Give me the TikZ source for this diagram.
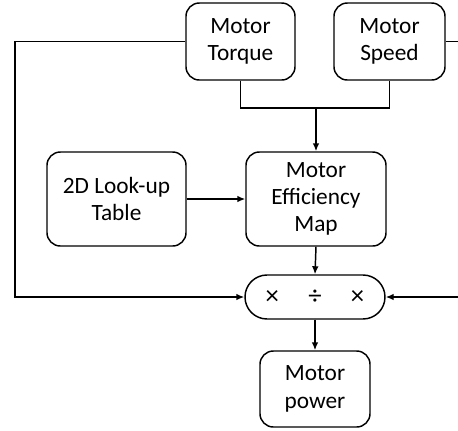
\documentclass[tikz,border=0pt]{standalone}
\usepackage{fontspec}
\setmainfont{Carlito}
\usetikzlibrary{arrows.meta,positioning}

\begin{document}
\begin{tikzpicture}[x=0.75pt,y=0.75pt,yscale=-1,
  blk/.style={draw,line width=1.1pt,rounded corners=10pt,align=center,inner sep=0pt,
    font=\fontsize{17.5}{20.5}\selectfont},
  wire/.style={line width=1.1pt},
  arr/.style={wire,-{Latex[length=6pt,width=5pt]}}]
  \useasboundingbox (0,0) rectangle (458,430);

  %Shape: Boxes
  \node [blk,minimum width=81.75pt,minimum height=57.75pt] (torque) at (240.5,41.5) {Motor\\Torque};
  \node [blk,minimum width=83.25pt,minimum height=57.75pt] (speed) at (389.5,41.5) {Motor\\Speed};
  \node [blk,minimum width=104.25pt,minimum height=70.5pt] (lookup) at (116.5,199) {2D Look-up\\Table};
  \node [blk,minimum width=105pt,minimum height=70.5pt] (effmap) at (316,199) {Motor\\Efficiency\\Map};
  \node [blk,rounded corners=16.5pt,minimum width=105pt,minimum height=33pt,
    font=\fontsize{20}{22}\selectfont] (muldiv) at (315,297) {×\hspace{22pt}÷\hspace{22pt}×};
  \node [blk,minimum width=82.5pt,minimum height=57pt] (power) at (315,389) {Motor\\power};

  %Free ends of the lines
  \coordinate (lcorner) at (15,41.5);
  \coordinate (rtop) at (458,41.5);
  \coordinate (rbot) at (458,297);
  \coordinate (join) at (316,108);

  %Straight Lines
  \draw [arr] (torque.west) -- (lcorner) |- (muldiv.west);
  \draw [wire] (speed.east) -- (rtop);
  \draw [arr] (rbot) -- (muldiv.east);
  \draw [wire] (torque.south) |- (join) -| (speed.south);
  \draw [arr] (join) -- (effmap.north);
  \draw [arr] (lookup.east) -- (effmap.west);
  \draw [arr] (effmap.south) -- (muldiv.north);
  \draw [arr] (muldiv.south) -- (power.north);
\end{tikzpicture}
\end{document}
